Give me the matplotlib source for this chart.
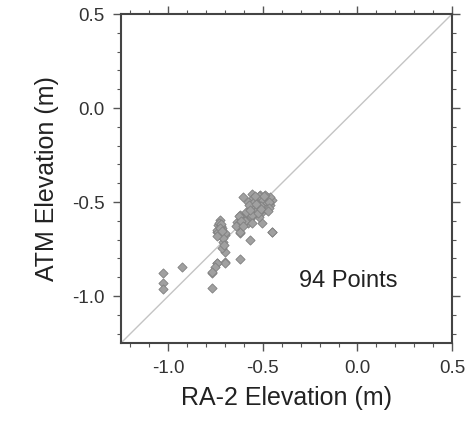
import numpy as np
import matplotlib
matplotlib.use("Agg")
import matplotlib.pyplot as plt
from matplotlib.ticker import MultipleLocator

plt.rcParams["font.family"] = ["Liberation Sans", "DejaVu Sans"]

# RA-2 vs ATM elevation (m)
ra2 = [
    -1.03, -1.03, -1.03, -0.93, -0.77, -0.77, -0.745, -0.70, -0.70, -0.745,
    -0.753, -0.77, -0.62, -0.70, -0.717, -0.709, -0.567, -0.453, -0.62, -0.70,
    -0.744, -0.726, -0.700, -0.717, -0.744, -0.735, -0.726, -0.73, -0.72, -0.735,
    -0.62, -0.453, -0.506, -0.576, -0.638, -0.603, -0.62, -0.585, -0.55, -0.506,
    -0.532, -0.523, -0.488, -0.462, -0.453, -0.479, -0.515, -0.558, -0.603, -0.59,
    -0.57, -0.54, -0.50, -0.47, -0.46, -0.49, -0.52, -0.55, -0.58, -0.61,
    -0.63, -0.60, -0.565, -0.53, -0.50, -0.48, -0.51, -0.545, -0.575, -0.615,
    -0.64, -0.625, -0.595, -0.56, -0.535, -0.495, -0.47, -0.485, -0.525, -0.555,
    -0.59, -0.615, -0.605, -0.57, -0.54, -0.51, -0.465, -0.475, -0.72, -0.71,
    -0.74, -0.725, -0.705, -0.715,
]
atm = [
    -0.876, -0.933, -0.964, -0.847, -0.876, -0.956, -0.826, -0.817, -0.826, -0.826,
    -0.844, -0.871, -0.805, -0.764, -0.746, -0.711, -0.702, -0.658, -0.666, -0.676,
    -0.658, -0.676, -0.666, -0.640, -0.649, -0.622, -0.596, -0.61, -0.63, -0.66,
    -0.658, -0.658, -0.613, -0.613, -0.605, -0.596, -0.569, -0.560, -0.534, -0.551,
    -0.489, -0.578, -0.525, -0.516, -0.489, -0.472, -0.463, -0.457, -0.472, -0.58,
    -0.59, -0.56, -0.53, -0.50, -0.475, -0.46, -0.47, -0.48, -0.50, -0.585,
    -0.62, -0.605, -0.575, -0.545, -0.49, -0.505, -0.52, -0.50, -0.515, -0.59,
    -0.63, -0.575, -0.60, -0.57, -0.51, -0.47, -0.50, -0.535, -0.56, -0.61,
    -0.555, -0.60, -0.625, -0.545, -0.47, -0.535, -0.53, -0.55, -0.615, -0.69,
    -0.68, -0.64, -0.73, -0.655,
]
n_label = "94 Points"

fig = plt.figure(figsize=(4.75, 4.25), dpi=100)
ax = fig.add_axes([0.2547, 0.1929, 0.6969, 0.7741])

lims = [-1.25, 0.5]
ax.plot(lims, lims, color="#c4c4c4", lw=1.0, zorder=1)
ax.scatter(ra2, atm, marker="D", s=22, facecolor="#a0a0a0",
           edgecolor="#808080", linewidths=0.6, zorder=3)

ax.text(-0.05, -0.92, n_label, fontsize=17, ha="center", va="center",
        color="#222222")

ax.set_xlim(lims)
ax.set_ylim(lims)
ax.xaxis.set_major_locator(MultipleLocator(0.5))
ax.yaxis.set_major_locator(MultipleLocator(0.5))
ax.xaxis.set_minor_locator(MultipleLocator(0.1))
ax.yaxis.set_minor_locator(MultipleLocator(0.1))
ax.tick_params(which="both", direction="out", top=True, right=True,
               color="#555555", labelsize=13.5, labelcolor="#333333")
ax.tick_params(which="major", length=6, width=1.0, pad=6)
ax.tick_params(which="minor", length=3, width=0.8)
ax.xaxis.set_major_formatter(plt.FormatStrFormatter("%.1f"))
ax.yaxis.set_major_formatter(plt.FormatStrFormatter("%.1f"))
for s in ax.spines.values():
    s.set_linewidth(1.5)
    s.set_color("#444444")

ax.set_xlabel("RA-2 Elevation (m)", fontsize=18, color="#222222", labelpad=7)
ax.set_ylabel("ATM Elevation (m)", fontsize=18, color="#222222", labelpad=9)

fig.savefig("out.png", dpi=100)
